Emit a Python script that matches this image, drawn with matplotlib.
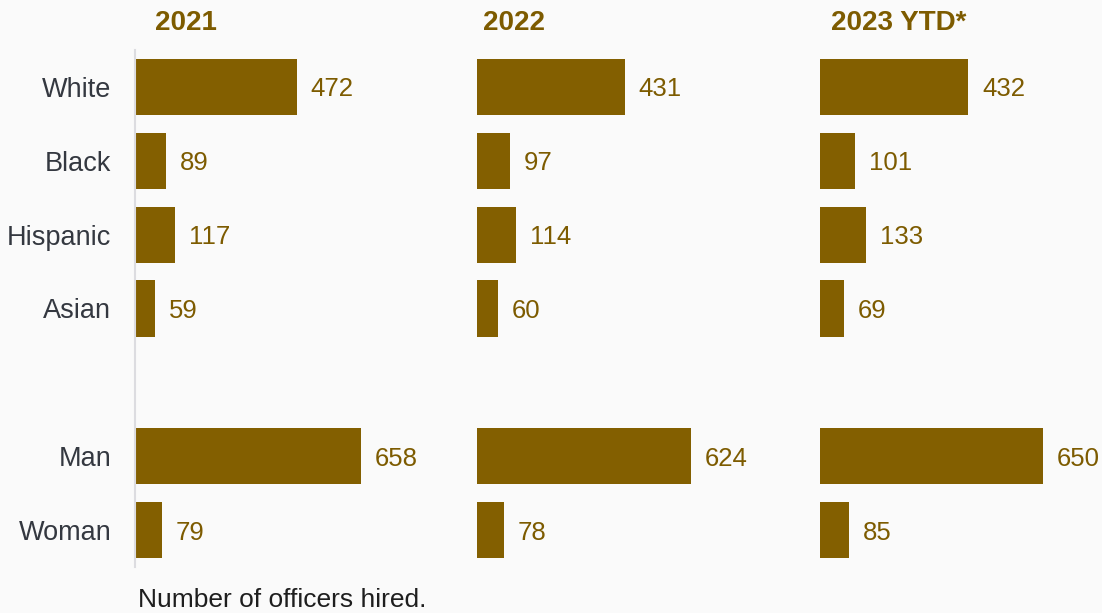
import matplotlib
matplotlib.use("Agg")
import matplotlib.pyplot as plt

plt.rcParams['font.family'] = ['Liberation Sans', 'DejaVu Sans']

categories = ["White", "Black", "Hispanic", "Asian", "Man", "Woman"]
positions = [0, 1, 2, 3, 5, 6]
panel_titles = ["2021", "2022", "2023 YTD*"]
values_2021 = [472, 89, 117, 59, 658, 79]
values_2022 = [431, 97, 114, 60, 624, 78]
values_2023 = [432, 101, 133, 69, 650, 85]
series = [values_2021, values_2022, values_2023]

W, H = 1102, 613
bg = "#fafafa"
bar_color = "#835f00"
label_color = "#7d5b00"
fig = plt.figure(figsize=(W / 100, H / 100), dpi=100, facecolor=bg)

lefts = [135, 477, 820]
title_x = [155, 483, 831]
ax_w = 300
top_px, bot_px = 50, 567
px_per_unit = 0.343
xmax = ax_w / px_per_unit

for i, (left, vals, title) in enumerate(zip(lefts, series, panel_titles)):
    ax = fig.add_axes([left / W, (H - bot_px) / H, ax_w / W, (bot_px - top_px) / H])
    ax.set_facecolor(bg)
    ax.barh(positions, vals, height=0.76, color=bar_color)
    ax.set_xlim(0, xmax)
    ax.set_ylim(6.5, -0.5)
    for p, v in zip(positions, vals):
        ax.annotate(str(v), (v, p), xytext=(10, 0), textcoords="offset points",
                    va="center_baseline", ha="left", fontsize=18.5, color=label_color)
    for s in ["top", "right", "bottom", "left"]:
        ax.spines[s].set_visible(False)
    ax.set_xticks([])
    if i == 0:
        ax.spines["left"].set_visible(True)
        ax.spines["left"].set_color("#dcdce0")
        ax.spines["left"].set_linewidth(1.5)
        ax.set_yticks(positions)
        ax.set_yticklabels(categories, fontsize=19.5, color="#343840")
        ax.tick_params(axis="y", length=0, pad=17)
    else:
        ax.set_yticks([])
    fig.text(title_x[i] / W, 1 - 23 / H, title, fontsize=20, fontweight="bold",
             color=label_color, ha="left", va="center")

fig.text(138 / W, 1 - 600 / H, "Number of officers hired.", fontsize=19,
         color="#1e1e1e", ha="left", va="center")

fig.savefig("out.png", dpi=100, facecolor=bg)
